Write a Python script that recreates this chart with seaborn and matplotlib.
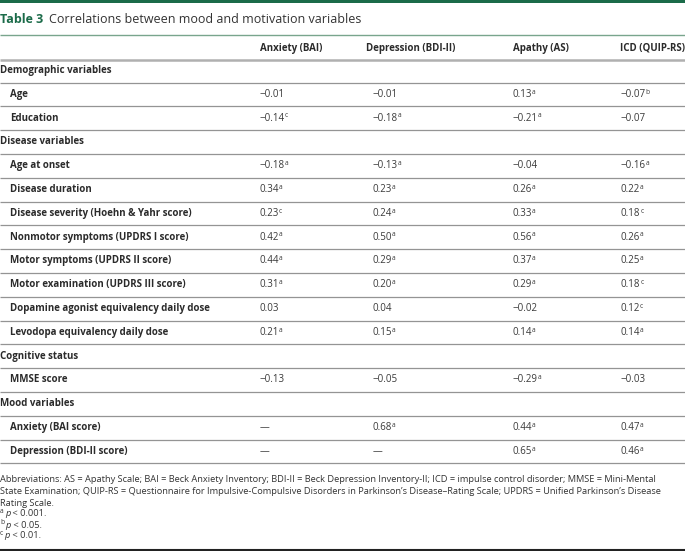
import matplotlib
matplotlib.use("Agg")
import matplotlib.pyplot as plt
import seaborn as sns

# ---------------- data ----------------
title_num = "Table 3"
title_text = "Correlations between mood and motivation variables"
col_headers = ["Anxiety (BAI)", "Depression (BDI-II)", "Apathy (AS)", "ICD (QUIP-RS)"]

groups = ["Demographic variables", "Disease variables", "Cognitive status", "Mood variables"]
group_items = [
    ["Age", "Education"],
    ["Age at onset", "Disease duration", "Disease severity (Hoehn & Yahr score)",
     "Nonmotor symptoms (UPDRS I score)", "Motor symptoms (UPDRS II score)",
     "Motor examination (UPDRS III score)", "Dopamine agonist equivalency daily dose",
     "Levodopa equivalency daily dose"],
    ["MMSE score"],
    ["Anxiety (BAI score)", "Depression (BDI-II score)"],
]

anxiety = [-0.01, -0.14, -0.18, 0.34, 0.23, 0.42, 0.44, 0.31, 0.03, 0.21, -0.13, None, None]
anxiety_sig = ["", "c", "a", "a", "c", "a", "a", "a", "", "a", "", "", ""]
depression = [-0.01, -0.18, -0.13, 0.23, 0.24, 0.50, 0.29, 0.20, 0.04, 0.15, -0.05, 0.68, None]
depression_sig = ["", "a", "a", "a", "a", "a", "a", "a", "", "a", "", "a", ""]
apathy = [0.13, -0.21, -0.04, 0.26, 0.33, 0.56, 0.37, 0.29, -0.02, 0.14, -0.29, 0.44, 0.65]
apathy_sig = ["a", "a", "", "a", "a", "a", "a", "a", "", "a", "a", "a", "a"]
icd = [-0.07, -0.07, -0.16, 0.22, 0.18, 0.26, 0.25, 0.18, 0.12, 0.14, -0.03, 0.47, 0.46]
icd_sig = ["b", "", "a", "a", "c", "a", "a", "c", "c", "a", "", "a", "a"]

footnote_abbrev = [
    "Abbreviations: AS = Apathy Scale; BAI = Beck Anxiety Inventory; BDI-II = Beck Depression Inventory-II; ICD = impulse control disorder; MMSE = Mini-Mental",
    "State Examination; QUIP-RS = Questionnaire for Impulsive-Compulsive Disorders in Parkinson\u2019s Disease\u2013Rating Scale; UPDRS = Unified Parkinson\u2019s Disease",
    "Rating Scale.",
]
footnote_sig_letters = ["a", "b", "c"]
footnote_sig_text = ["< 0.001.", "< 0.05.", "< 0.01."]

# ---------------- style ----------------
sns.set_theme(style="white")
plt.rcParams["font.family"] = ["Open Sans", "DejaVu Sans"]

W, H = 685, 551
fig = plt.figure(figsize=(W / 100, H / 100), dpi=100)
ax = fig.add_axes([0, 0, 1, 1])
ax.set_xlim(0, W)
ax.set_ylim(H, 0)
ax.axis("off")

GREEN = "#1b6b49"
TXT = "#2b2b2b"
LINE = "#949494"
FS = 7.0
SUPFS = 4.8

# top bar and title
ax.axhspan(0, 3.2, color=GREEN, lw=0)
ax.text(0, 19.5, title_num, color=GREEN, fontsize=9.0, fontweight="bold", va="center", ha="left")
ax.text(49, 19.5, title_text, color="#333333", fontsize=9.0, va="center", ha="left")
ax.plot([0, W], [34.5, 34.5], color="#79a58d", lw=1.0, solid_capstyle="butt")

# column headers
col_x = [260, 373, 513, 621]
hdr_x = [260, 366, 513, 620]
hdr_y = 48.5
for x, h in zip(hdr_x, col_headers):
    ax.text(x, hdr_y, h, fontsize=FS, fontweight="bold", color=TXT, va="center", ha="left")
ax.plot([0, W], [59.5, 59.5], color="#b0b0b0", lw=1.8, solid_capstyle="butt")

def fmt(v):
    if v is None:
        return "\u2014"
    return f"{v:.2f}".replace("-", "\u2212")

columns = [(anxiety, anxiety_sig), (depression, depression_sig), (apathy, apathy_sig), (icd, icd_sig)]

y0 = 70.5
pitch = 23.8
row = 0
item_idx = 0
for g, items in zip(groups, group_items):
    y = y0 + row * pitch
    ax.text(0.5, y, g, fontsize=FS, fontweight="bold", color=TXT, va="center", ha="left")
    ax.plot([0, W], [y + 12, y + 12], color=LINE, lw=0.9, solid_capstyle="butt")
    row += 1
    for it in items:
        y = y0 + row * pitch
        ax.text(10, y, it, fontsize=FS, fontweight="bold", color=TXT, va="center", ha="left")
        for x, (vals, sigs) in zip(col_x, columns):
            v = vals[item_idx]
            s = sigs[item_idx]
            txt = ax.text(x, y, fmt(v), fontsize=FS, color="#3a3a3a", va="center", ha="left")
            if s:
                ax.annotate(s, xy=(1.0, 0.56), xycoords=txt, fontsize=SUPFS, color="#3a3a3a",
                            va="baseline", ha="left", xytext=(-0.2, 0), textcoords="offset points")
        ax.plot([0, W], [y + 12, y + 12], color=LINE, lw=0.9, solid_capstyle="butt")
        row += 1
        item_idx += 1

# footnotes
FFS = 6.7
fy = [480, 491.5, 503, 514, 525, 536]
for yy, line in zip(fy[:3], footnote_abbrev):
    ax.text(0, yy, line, fontsize=FFS, color="#333333", va="center", ha="left")
for yy, letter, rest in zip(fy[3:], footnote_sig_letters, footnote_sig_text):
    sup = ax.text(0, yy - 2.5, letter, fontsize=SUPFS, color="#333333", va="center", ha="left")
    p = ax.annotate("p", xy=(1.0, 0.5), xycoords=sup, xytext=(1.0, -1.8), textcoords="offset points",
                    fontsize=FFS, style="italic", color="#333333", va="center", ha="left")
    ax.annotate(" " + rest, xy=(1.0, 0.5), xycoords=p, fontsize=FFS, color="#333333",
                va="center", ha="left")

ax.plot([0, W], [549.5, 549.5], color="#222222", lw=1.5, solid_capstyle="butt")

fig.savefig("out.png", dpi=100)
